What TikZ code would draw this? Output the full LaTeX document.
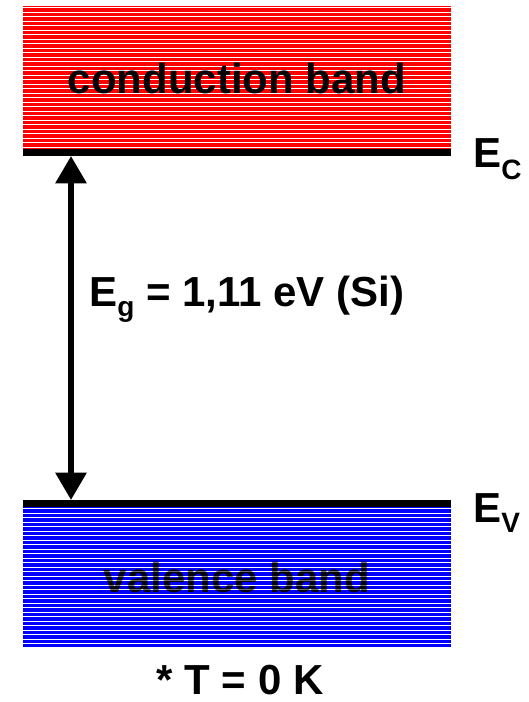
\documentclass[tikz,border=0pt]{standalone}
\usepackage{fontspec}
\setmainfont{Liberation Sans}
\usetikzlibrary{arrows.meta}
\definecolor{bandred}{RGB}{255,0,0}
\definecolor{bandblue}{RGB}{0,0,255}
\newcommand{\subfont}{\fontsize{21}{21}\selectfont}
\tikzset{
  bandtext/.style={font=\fontsize{31.5}{31.5}\selectfont\bfseries, inner sep=0pt, anchor=base},
  levellabel/.style={font=\fontsize{31.5}{31.5}\selectfont\bfseries, inner sep=0pt, anchor=base west},
  gaplabel/.style={font=\fontsize{31.5}{31.5}\selectfont\bfseries, inner sep=0pt, anchor=base west},
  templabel/.style={font=\fontsize{31.5}{31.5}\selectfont\bfseries, inner sep=0pt, anchor=base},
  levelline/.style={fill=black, draw=none},
  stripe/.style={white, line width=0.6pt},
  faintstripe/.style={white, line width=0.6pt, opacity=0.45},
  gaparrow/.style={line width=4.5pt, {Triangle[width=22.5pt,length=20.5pt]}-{Triangle[width=22.5pt,length=20.5pt]}}
}
\begin{document}
\begin{tikzpicture}[x=0.75pt,y=-0.75pt]
\useasboundingbox (0,0) rectangle (528,702);
% conduction band
\fill[bandred] (23,6) rectangle (451,149);
\foreach \y in {7.5,12,...,148} {\draw[stripe] (23,\y) -- (451,\y);}
\node[bandtext] (cbtext) at (237,94) {conduction band};
\fill[levelline] (23,149) rectangle (451,156);
% valence band
\fill[bandblue] (23,507) rectangle (451,647);
\foreach \y in {508.5,513,...,647} {\draw[stripe] (23,\y) -- (451,\y);}
\node[bandtext] (vbtext) at (237,592) {valence band};
\foreach \y in {558,562.5,...,600} {\draw[faintstripe] (100,\y) -- (375,\y);}
\fill[levelline] (23,500) rectangle (451,507);
% level labels
\node[levellabel] (ec) at (473,168) {E\raisebox{-9pt}{\subfont C}};
\node[levellabel] (ev) at (473,522) {E\raisebox{-8pt}{\subfont V}};
% gap arrow
\coordinate (ctop) at (71,156);
\coordinate (vbot) at (71,500);
\draw[gaparrow] (ctop) -- (vbot);
\node[gaplabel] (eg) at (89,306) {E\raisebox{-8pt}{\subfont g}\ = 1,11 eV (Si)};
% temperature
\node[templabel] (temp) at (240,694) {* T = 0 K};
\end{tikzpicture}
\end{document}
